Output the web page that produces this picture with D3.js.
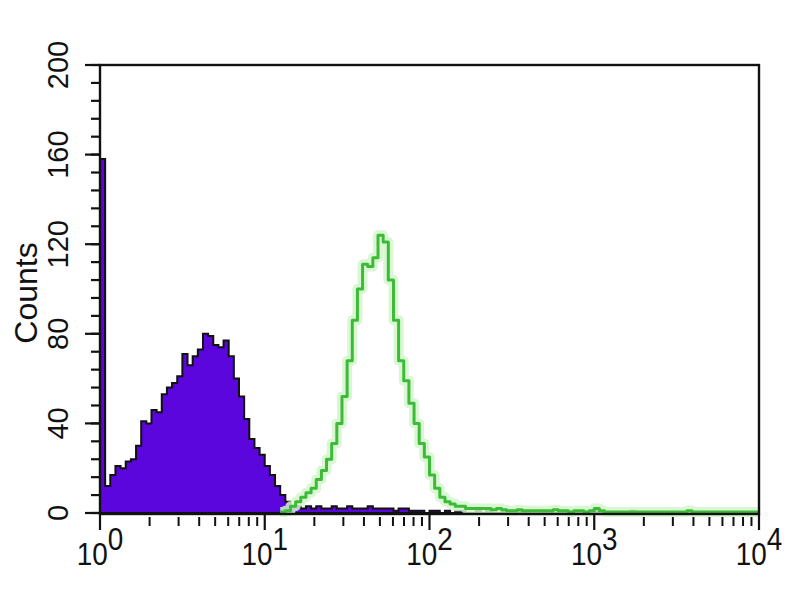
<!DOCTYPE html>
<html>
<head>
<meta charset="utf-8">
<script src="https://cdn.jsdelivr.net/npm/d3@7"></script>
<style>
html,body{margin:0;padding:0;background:#fff;}
svg{display:block;}
text{font-family:"Liberation Sans",Arial,sans-serif;fill:#111;}
</style>
</head>
<body>
<svg id="chart" width="800" height="600"></svg>
<script>
// ---- data (counts per log channel, 128 channels over 10^0..10^4) ----
const purpleCounts = [
158,12,17,21,20,23,24,30,41,40,46,45,53,56,58,61,71,66,70,73,
80,79,75,74,77,70,60,52,42,33,29,26,21,17,12,8,5,3,3,2,
3,2,3,2,2,3,2,2,3,2,2,2,3,2,2,2,2,1,2,2,
1,1,1,0,1,1,0,1,0,1,1,0,0,1,0,1,0,0,1,0,
0,1,0,0,0,1,0,0,0,0,1,0,0,0,0,0,1,0,0,0,
0,0,0,1,0,0,0,0,0,0,0,0,0,0,0,0,0,0,0,0,
0,0,0,0,0,0,0,0
];
const greenCounts = [
0,0,0,0,0,0,0,0,0,0,0,0,0,0,0,0,0,0,0,0,
0,0,0,0,0,0,0,0,0,0,0,0,0,0,0,0.5,1,3,5,7,
9,11,15,19,24,31,40,52,68,86,100,111,110,114,124,121,104,86,68,59,
49,40,31,25,17,11,7,5,4,3,3,2,2,2,2,2,1.5,2,1.5,1,
1,1.5,1,1,1,1,1,1,1.5,1,1,0.5,1,1,0.5,1,2,1,0.5,0.5,
0.5,0.5,0.5,0.5,0.5,0.5,0.5,0.5,0.5,0.5,0.5,0.5,0.5,0.5,1,0.5,0.5,0.5,0.5,0.5,
0.5,0.5,0.5,0.5,0.5,0.5,0.5,0.5
];
const yTicks = [0,40,80,120,160,200];
const xDecades = [0,1,2,3,4];
const yTitle = "Counts";

// ---- layout ----
const svg = d3.select("#chart");
const nCh = purpleCounts.length;
const x = d3.scaleLog().domain([1, 1e4]).range([100, 759]);
const y = d3.scaleLinear().domain([0, 200]).range([513, 65]);
const edge = i => Math.pow(10, 4 * i / nCh);

function stepData(arr, start) {
  const pts = [];
  for (let i = start; i < arr.length; i++) pts.push([edge(i), arr[i]]);
  pts.push([edge(arr.length), arr[arr.length - 1]]);
  return pts;
}

// purple filled histogram
const pData = stepData(purpleCounts, 0);
const area = d3.area().curve(d3.curveStepAfter)
  .x(d => x(d[0])).y0(y(0)).y1(d => y(d[1]));
svg.append("path").datum(pData).attr("d", area)
  .attr("fill", "#5a06dc").attr("stroke", "#111").attr("stroke-width", 2)
  .attr("stroke-linejoin", "miter");

// green outlined histogram
const gStart = greenCounts.findIndex(v => v > 0);
const gData = stepData(greenCounts, gStart);
const line = d3.line().curve(d3.curveStepAfter)
  .x(d => x(d[0])).y(d => y(d[1]));
svg.append("path").datum(gData).attr("d", line)
  .attr("fill", "none").attr("stroke", "#d3f6cc").attr("stroke-width", 10)
  .attr("stroke-linejoin", "round").attr("opacity", 0.85);
svg.append("path").datum(gData).attr("d", line)
  .attr("fill", "none").attr("stroke", "#3dbb38").attr("stroke-width", 3)
  .attr("stroke-linejoin", "round");

// frame
svg.append("rect").attr("x", 100).attr("y", 65).attr("width", 659).attr("height", 449)
  .attr("fill", "none").attr("stroke", "#111").attr("stroke-width", 2.4);

// y ticks
const yMinor = d3.range(0, 201, 8);
svg.append("g").selectAll("line").data(yMinor).join("line")
  .attr("x1", 91).attr("x2", 100).attr("y1", d => y(d)).attr("y2", d => y(d))
  .attr("stroke", "#111").attr("stroke-width", 2.2);
svg.append("g").selectAll("line").data(yTicks).join("line")
  .attr("x1", 85).attr("x2", 100).attr("y1", d => y(d)).attr("y2", d => y(d))
  .attr("stroke", "#111").attr("stroke-width", 2.2);
svg.append("g").selectAll("text").data(yTicks).join("text")
  .attr("transform", d => `translate(68,${y(d)}) rotate(-90)`)
  .attr("text-anchor", "middle").attr("font-size", 29).text(d => d);

// x ticks
const xAxisY = 514;
const minor = [];
xDecades.slice(0, -1).forEach(k => { for (let m = 2; m <= 9; m++) minor.push(m * Math.pow(10, k)); });
svg.append("g").selectAll("line").data(minor).join("line")
  .attr("x1", d => x(d)).attr("x2", d => x(d)).attr("y1", xAxisY + 3).attr("y2", xAxisY + 12)
  .attr("stroke", "#111").attr("stroke-width", 2);
svg.append("g").selectAll("line").data(xDecades).join("line")
  .attr("x1", d => x(Math.pow(10, d))).attr("x2", d => x(Math.pow(10, d)))
  .attr("y1", xAxisY).attr("y2", xAxisY + 16)
  .attr("stroke", "#111").attr("stroke-width", 2.2);
const xl = svg.append("g").selectAll("text").data(xDecades).join("text")
  .attr("transform", d => `translate(${x(Math.pow(10, d))},565) scale(0.9,1)`)
  .attr("text-anchor", "middle").attr("font-size", 31);
xl.append("tspan").text("10");
xl.append("tspan").attr("dy", -15).text(d => d);

// y title
svg.append("text").attr("transform", "translate(37,293) rotate(-90)")
  .attr("text-anchor", "middle").attr("font-size", 32).text(yTitle);
</script>
</body>
</html>
